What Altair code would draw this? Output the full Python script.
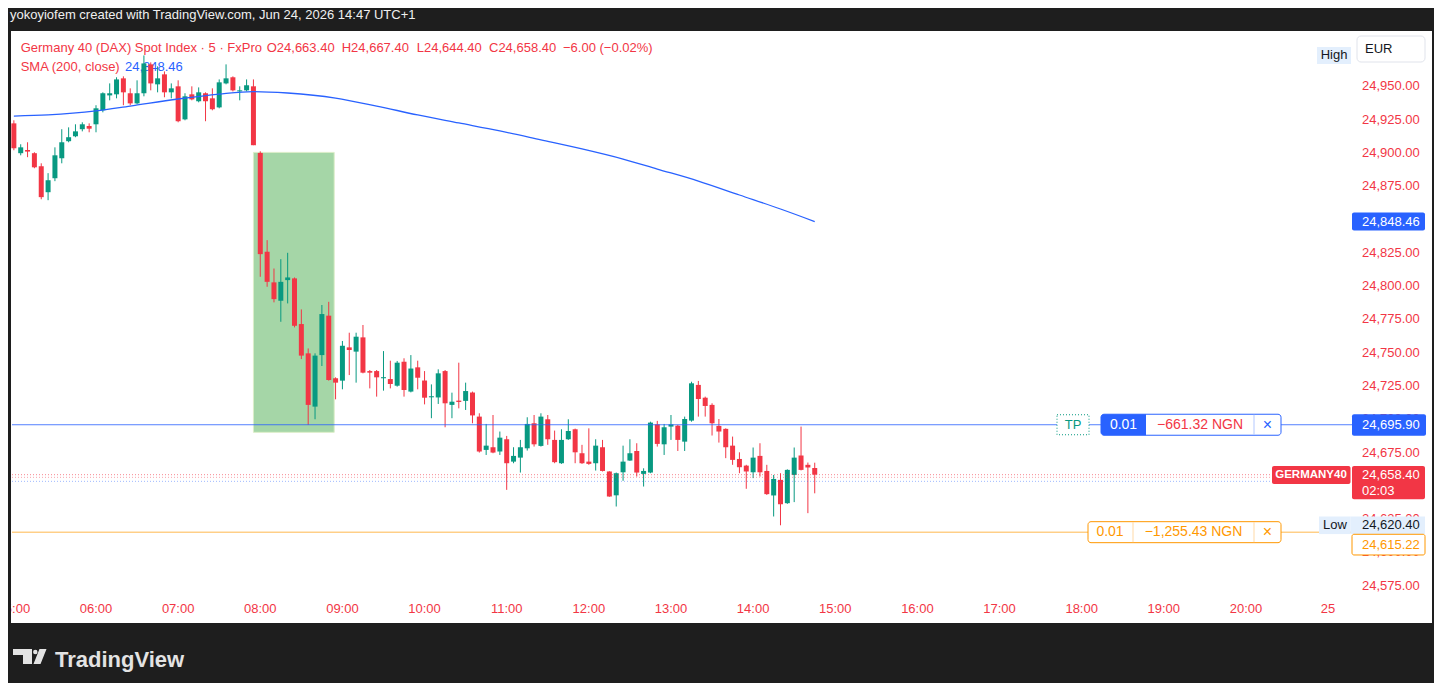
import altair as alt
import pandas as pd

RED = "#f23645"
GREEN = "#089981"
BLUE = "#2962ff"
ORANGE = "#ff9800"
FRAME = "#1e1e1e"
INK = "#131722"
LOGO = "#e3e3e3"
LIGHTBLUE = "#e3effd"
FONT = "Liberation Sans"

# ---------------- data ----------------
opens = [24922.2, 24899.8, 24902.2, 24899.8, 24890.0, 24870.5, 24881.0, 24896.0, 24908.8, 24912.5,
         24917.8, 24920.2, 24921.5, 24932.0, 24943.2, 24944.0, 24956.0, 24944.8, 24937.2, 24944.8,
         24966.5, 24951.5, 24959.0, 24945.5, 24950.0, 24925.2, 24944.0, 24938.8, 24944.8, 24941.0,
         24934.2, 24952.2, 24956.8, 24946.2, 24947.0, 24950.0, 24900.0, 24825.8, 24802.8, 24789.0,
         24804.5, 24805.8, 24771.5, 24749.5, 24709.5, 24748.2, 24777.8, 24730.8, 24729.0, 24754.0,
         24750.8, 24761.5, 24736.2, 24736.2, 24730.8, 24730.2, 24725.2, 24743.2, 24720.8, 24739.0,
         24729.1, 24716.5, 24716.4, 24736.2, 24710.8, 24714.0, 24713.8, 24720.1, 24702.0, 24677.0,
         24679.0, 24675.8, 24685.0, 24668.2, 24671.2, 24678.2, 24697.0, 24680.0, 24700.0, 24684.5,
         24667.0, 24685.0, 24692.5, 24674.5, 24668.2, 24667.0, 24679.0, 24660.8, 24642.9, 24660.2,
         24669.0, 24676.2, 24659.0, 24660.0, 24696.2, 24681.2, 24694.5, 24695.2, 24683.2, 24699.0,
         24725.8, 24716.2, 24710.8, 24695.0, 24692.8, 24680.2, 24670.2, 24665.2, 24660.2, 24672.5,
         24661.2, 24642.8, 24654.5, 24637.0, 24658.2, 24672.8, 24665.8, 24663.4]
highs = [24924.5, 24906.5, 24908.0, 24900.5, 24892.2, 24884.8, 24904.2, 24917.8, 24919.2, 24921.5,
         24923.0, 24922.2, 24935.8, 24945.5, 24952.2, 24956.8, 24957.5, 24948.5, 24954.5, 24973.2,
         24968.0, 24965.0, 24961.2, 24952.2, 24954.5, 24944.8, 24950.0, 24949.2, 24945.5, 24948.5,
         24955.2, 24966.5, 24957.5, 24950.0, 24955.2, 24955.2, 24901.2, 24834.5, 24813.2, 24820.2,
         24825.0, 24806.5, 24782.5, 24753.2, 24749.5, 24785.8, 24788.2, 24731.5, 24758.8, 24765.0,
         24765.0, 24770.8, 24737.0, 24737.0, 24751.2, 24744.0, 24743.8, 24745.8, 24748.2, 24744.0,
         24736.2, 24726.2, 24737.5, 24737.0, 24720.0, 24742.5, 24727.5, 24720.8, 24704.5, 24696.5,
         24703.2, 24690.8, 24687.5, 24679.0, 24684.5, 24701.5, 24703.2, 24704.5, 24703.2, 24691.5,
         24692.5, 24700.0, 24693.0, 24680.8, 24693.2, 24685.0, 24684.5, 24661.0, 24660.0, 24680.2,
         24685.0, 24682.0, 24663.2, 24698.2, 24698.8, 24696.5, 24703.2, 24695.8, 24702.0, 24728.2,
         24728.8, 24717.0, 24712.0, 24700.2, 24693.2, 24687.0, 24675.2, 24665.8, 24678.8, 24682.0,
         24665.8, 24658.2, 24659.5, 24662.4, 24678.8, 24694.5, 24667.5, 24667.4]
lows = [24902.0, 24898.2, 24896.8, 24888.5, 24865.2, 24864.5, 24878.8, 24892.2, 24908.0, 24911.8,
        24916.2, 24915.5, 24915.5, 24930.5, 24939.5, 24941.0, 24935.8, 24935.8, 24936.5, 24942.5,
        24947.0, 24945.5, 24941.8, 24941.0, 24923.0, 24924.5, 24939.5, 24938.0, 24923.8, 24932.0,
        24933.5, 24951.5, 24946.2, 24939.5, 24946.2, 24905.8, 24807.0, 24799.5, 24787.8, 24773.2,
        24787.0, 24769.0, 24745.2, 24695.8, 24700.0, 24740.0, 24729.0, 24715.0, 24722.5, 24733.2,
        24727.5, 24734.5, 24723.2, 24717.0, 24721.5, 24723.2, 24724.5, 24717.0, 24720.2, 24722.5,
        24711.2, 24700.8, 24711.5, 24694.0, 24700.8, 24708.2, 24707.0, 24697.0, 24675.0, 24673.2,
        24674.5, 24673.2, 24647.0, 24667.0, 24660.0, 24676.5, 24679.5, 24679.5, 24680.8, 24667.0,
        24666.5, 24684.5, 24667.0, 24666.5, 24665.8, 24661.5, 24660.8, 24641.8, 24634.5, 24653.8,
        24668.8, 24657.0, 24649.5, 24659.5, 24679.5, 24673.2, 24684.5, 24676.2, 24676.2, 24698.2,
        24702.0, 24702.0, 24687.8, 24682.5, 24670.8, 24665.8, 24659.5, 24647.8, 24655.8, 24657.0,
        24643.2, 24627.0, 24620.4, 24636.5, 24637.8, 24661.6, 24629.5, 24644.4]
closes = [24903.5, 24904.2, 24901.0, 24889.2, 24866.8, 24879.5, 24898.2, 24908.0, 24911.8, 24916.2,
          24921.5, 24918.2, 24933.5, 24944.8, 24944.8, 24955.2, 24945.5, 24937.2, 24944.8, 24967.2,
          24952.2, 24956.0, 24945.5, 24948.5, 24923.8, 24942.5, 24940.2, 24945.5, 24938.8, 24932.8,
          24953.0, 24956.0, 24947.0, 24946.6, 24950.8, 24905.8, 24824.0, 24803.2, 24790.2, 24803.2,
          24806.5, 24770.2, 24747.8, 24710.8, 24747.8, 24779.0, 24729.5, 24727.5, 24755.2, 24752.0,
          24762.0, 24735.0, 24735.0, 24731.5, 24731.5, 24726.5, 24742.5, 24722.0, 24738.1, 24731.2,
          24716.2, 24717.0, 24734.5, 24712.0, 24713.2, 24713.0, 24721.2, 24702.9, 24675.8, 24680.2,
          24675.0, 24686.2, 24667.0, 24672.5, 24679.0, 24696.5, 24681.2, 24702.0, 24685.0, 24667.8,
          24684.5, 24691.2, 24675.2, 24667.0, 24666.5, 24680.2, 24661.2, 24642.0, 24659.5, 24668.2,
          24674.5, 24660.0, 24661.2, 24697.5, 24681.5, 24694.0, 24696.2, 24684.5, 24700.2, 24727.0,
          24715.2, 24710.0, 24697.0, 24690.8, 24679.0, 24669.5, 24664.0, 24660.8, 24671.2, 24660.2,
          24643.8, 24655.2, 24636.2, 24662.0, 24671.2, 24662.0, 24663.8, 24658.4]
# 5-minute candles starting 05:00 (minutes since midnight)
candle_minutes = [300 + 5 * i for i in range(len(opens))]

sma_times = ["05:00", "05:25", "06:00", "06:25", "07:00", "07:30", "07:55", "08:20", "08:55",
             "09:25", "09:55", "10:25", "10:55", "11:25", "11:55", "12:25", "12:50", "13:20",
             "13:50", "14:20", "14:45"]
sma_values = [24927.7, 24928.5, 24931.5, 24935.2, 24940.5, 24944.2, 24946.1, 24945.0, 24941.2,
              24935.2, 24928.5, 24922.5, 24916.5, 24909.8, 24903.0, 24895.4, 24887.9, 24878.9,
              24868.4, 24857.9, 24848.46]

zone_times = ["07:55", "08:54"]
zone_prices = [24690.2, 24900.4]

tp_price = 24695.90
sl_price = 24615.22
last_price = 24658.40
sma_last = 24848.46
dotted_prices = [24658.4, 24656.4, 24653.4]

# visible price-scale labels (24,850 and 24,650 sit fully under the tag boxes)
price_ticks = [24575, 24600, 24625, 24675, 24700, 24725, 24750, 24775, 24800, 24825,
               24875, 24900, 24925, 24950]
hour_ticks = [300 + 60 * k for k in range(17)]
hour_labels = ["05:00", "06:00", "07:00", "08:00", "09:00", "10:00", "11:00", "12:00", "13:00",
               "14:00", "15:00", "16:00", "17:00", "18:00", "19:00", "20:00", "25"]


def to_min(s):
    h, m = s.split(":")
    return int(h) * 60 + int(m)


# ---------------- scales ----------------
X_DOMAIN = [298.64, 1276.0]
Y_DOMAIN = [24565.8, 24990.8]
W, H = 1338, 566
XS = alt.Scale(domain=X_DOMAIN, nice=False, zero=False, padding=0)
YS = alt.Scale(domain=Y_DOMAIN, nice=False, zero=False, padding=0)
PXPT = H / (Y_DOMAIN[1] - Y_DOMAIN[0])


def pts(px):
    return px / PXPT


ONE = pd.DataFrame({"k": [0]})


def prect(x1, x2, y1, y2, fill, **kw):
    return alt.Chart(ONE).mark_rect(fill=fill, **kw).encode(
        x=alt.value(x1), x2=alt.value(x2), y=alt.value(y1), y2=alt.value(y2))


def ptxt(x, y, txt, color, size=13, align="left", weight="normal"):
    return alt.Chart(ONE).mark_text(align=align, baseline="middle", font=FONT, fontSize=size,
                                    fontWeight=weight, color=color).encode(
        x=alt.value(x), y=alt.value(y), text=alt.value(txt))


def hbox(price, up_px, down_px, x1, x2, fill, **kw):
    d = pd.DataFrame({"a": [price + pts(up_px)], "b": [price - pts(down_px)]})
    return alt.Chart(d).mark_rect(fill=fill, **kw).encode(
        x=alt.value(x1), x2=alt.value(x2),
        y=alt.Y("a:Q", scale=YS, axis=None), y2="b:Q")


def vrule(price, up_px, down_px, x, color):
    d = pd.DataFrame({"a": [price + pts(up_px)], "b": [price - pts(down_px)]})
    return alt.Chart(d).mark_rule(color=color, strokeWidth=1).encode(
        x=alt.value(x), y=alt.Y("a:Q", scale=YS, axis=None), y2="b:Q")


def ttxt(price, x, txt, color, size=13, align="left", weight="normal", dy=0):
    d = pd.DataFrame({"p": [price]})
    return alt.Chart(d).mark_text(align=align, baseline="middle", font=FONT, fontSize=size,
                                  fontWeight=weight, color=color, dy=dy).encode(
        x=alt.value(x), y=alt.Y("p:Q", scale=YS, axis=None), text=alt.value(txt))


def hline(price, x1, x2, color, opacity=1.0, dash=None):
    d = pd.DataFrame({"p": [price]})
    kw = dict(color=color, strokeWidth=1, opacity=opacity)
    if dash:
        kw["strokeDash"] = dash
    return alt.Chart(d).mark_rule(**kw).encode(
        x=alt.value(x1), x2=alt.value(x2), y=alt.Y("p:Q", scale=YS, axis=None))


layers = []

# price-scale labels (drawn first so the tag boxes cover them)
ylab = pd.DataFrame({"p": price_ticks})
layers.append(alt.Chart(ylab).transform_calculate(lbl="format(datum.p, ',.2f')").mark_text(
    align="left", baseline="middle", font=FONT, fontSize=13, color=RED).encode(
    x=alt.value(1350), y=alt.Y("p:Q", scale=YS, axis=None), text="lbl:N"))
# time-scale labels
xlab = pd.DataFrame({"t": hour_ticks, "lbl": hour_labels})
layers.append(alt.Chart(xlab).mark_text(
    align="center", baseline="middle", font=FONT, fontSize=13, color=RED).encode(
    x=alt.X("t:Q", scale=XS, axis=None), y=alt.value(577), text="lbl:N"))

# green zone (behind candles)
zone_df = pd.DataFrame({"t1": [to_min(zone_times[0])], "t2": [to_min(zone_times[1])],
                        "p1": [zone_prices[0]], "p2": [zone_prices[1]]})
layers.append(alt.Chart(zone_df).mark_rect(fill="#a5d6a7", stroke="#dcedc8", strokeWidth=1).encode(
    x=alt.X("t1:Q", scale=XS, axis=None), x2="t2:Q",
    y=alt.Y("p1:Q", scale=YS, axis=None), y2="p2:Q"))

# legend texts
layers += [
    ptxt(8.7, 15.5, "Germany 40 (DAX) Spot Index · 5 · FxPro", RED),
    ptxt(254.7, 15.5, "O24,663.40", RED),
    ptxt(329.7, 15.5, "H24,667.40", RED),
    ptxt(404.7, 15.5, "L24,644.40", RED),
    ptxt(477, 15.5, "C24,658.40", RED),
    ptxt(551, 15.5, "−6.00 (−0.02%)", RED),
    ptxt(8.7, 34.7, "SMA (200, close)", RED),
    ptxt(113, 34.7, "24,848.46", BLUE),
]

# candles
cdf = pd.DataFrame({"t": candle_minutes, "o": opens, "h": highs, "l": lows, "c": closes})
cbase = alt.Chart(cdf).transform_calculate(
    lo="min(datum.o, datum.c)",
    hi="max(datum.o, datum.c, min(datum.o, datum.c) + 0.8)",
    up="datum.c >= datum.o ? 'up' : 'down'",
)
ccolor = alt.Color("up:N", scale=alt.Scale(domain=["up", "down"], range=[GREEN, RED]), legend=None)
layers.append(cbase.mark_rule(strokeWidth=1).encode(
    x=alt.X("t:Q", scale=XS, axis=None),
    y=alt.Y("l:Q", scale=YS, axis=None), y2="h:Q", color=ccolor))
layers.append(cbase.mark_bar(size=5).encode(
    x=alt.X("t:Q", scale=XS, axis=None),
    y=alt.Y("lo:Q", scale=YS, axis=None), y2="hi:Q", color=ccolor))

# SMA
sdf = pd.DataFrame({"t": [to_min(s) for s in sma_times], "v": sma_values})
layers.append(alt.Chart(sdf).mark_line(color=BLUE, strokeWidth=1.3, interpolate="monotone").encode(
    x=alt.X("t:Q", scale=XS, axis=None), y=alt.Y("v:Q", scale=YS, axis=None)))

# horizontal lines
layers.append(hline(dotted_prices[0], 0, 1260, RED, 0.6, [1, 2]))
layers.append(hline(dotted_prices[1], 0, 1260, RED, 0.45, [1, 2]))
layers.append(hline(dotted_prices[2], 0, 1260, BLUE, 0.45, [1, 2]))
layers.append(hline(tp_price, 0, 1340, BLUE, 0.8))
layers.append(hline(sl_price, 0, 1340, ORANGE, 0.7))

# TP tag
layers.append(hbox(tp_price, 10, 10, 1045, 1077, "white", stroke=GREEN, strokeWidth=1, strokeDash=[1, 2]))
layers.append(ttxt(tp_price, 1061, "TP", GREEN, 13, "center"))

# blue order pill
layers.append(hbox(tp_price, 10.5, 10.5, 1089, 1269, "white", stroke=BLUE, strokeWidth=1, cornerRadius=3))
layers.append(hbox(tp_price, 10.5, 10.5, 1089, 1134, BLUE, cornerRadiusTopLeft=3, cornerRadiusBottomLeft=3))
layers.append(vrule(tp_price, 10, 10, 1242, "#b3c8ff"))
layers.append(ttxt(tp_price, 1111.5, "0.01", "white", 14, "center"))
layers.append(ttxt(tp_price, 1188, "−661.32 NGN", RED, 14, "center"))
layers.append(ttxt(tp_price, 1255.5, "×", BLUE, 16, "center"))

# orange order pill
layers.append(hbox(sl_price, 10.5, 10.5, 1076, 1269, "white", stroke=ORANGE, strokeWidth=1, cornerRadius=3))
layers.append(vrule(sl_price, 10, 10, 1121, "#ffd9a6"))
layers.append(vrule(sl_price, 10, 10, 1242, "#ffd9a6"))
layers.append(ttxt(sl_price, 1098, "0.01", ORANGE, 14, "center"))
layers.append(ttxt(sl_price, 1181.5, "−1,255.43 NGN", ORANGE, 14, "center"))
layers.append(ttxt(sl_price, 1255.5, "×", ORANGE, 16, "center"))

# price-scale boxes
layers.append(hbox(sma_last, 9, 9, 1340, 1413, BLUE, cornerRadius=2))
layers.append(ttxt(sma_last, 1350, "24,848.46", "white"))
layers.append(hbox(tp_price, 10.5, 11, 1340, 1414, BLUE, cornerRadius=2))
layers.append(ttxt(tp_price, 1350, "24,695.90", "white"))
layers.append(hbox(last_price, 8.7, 9.3, 1260, 1338.5, RED, cornerRadius=2))
layers.append(ttxt(last_price, 1299, "GERMANY40", "white", 11.5, "center", "bold"))
layers.append(hbox(last_price, 8.7, 24.6, 1340, 1413, RED, cornerRadius=2))
layers.append(ttxt(last_price, 1350, "24,658.40", "white"))
layers.append(ttxt(last_price, 1350, "02:03", "white", dy=16))
low_price = min(lows)
high_price = max(highs)
layers.append(hbox(low_price, 8.8, 8.8, 1307, 1338.7, LIGHTBLUE))
layers.append(ttxt(low_price, 1323, "Low", INK, 13, "center"))
layers.append(hbox(low_price, 8.8, 8.8, 1338.7, 1413, LIGHTBLUE))
layers.append(ttxt(low_price, 1350, "24,620.40", INK))
layers.append(hbox(sl_price, -2.1, 22.8, 1340, 1413, "white", stroke=ORANGE, strokeWidth=1, cornerRadius=2))
layers.append(ttxt(sl_price, 1350, "24,615.22", ORANGE, dy=12.4))
layers.append(hbox(high_price, 8.5, 8.5, 1305, 1339, LIGHTBLUE))
layers.append(ttxt(high_price, 1322, "High", INK, 13, "center"))
layers.append(prect(1345, 1413, 4, 30, "white", stroke="#e0e3eb", strokeWidth=1, cornerRadius=4))
layers.append(ptxt(1353, 17, "EUR", INK))

# dark frame
layers += [
    prect(-20, 1440, -40, -1, FRAME),
    prect(-20, -1, -40, 700, FRAME),
    prect(1420, 1440, -40, 700, FRAME),
    prect(-20, 1440, 591, 700, FRAME),
]
layers.append(ptxt(-2, -17, "yokoyiofem created with TradingView.com, Jun 24, 2026 14:47 UTC+1", "#f0f0f0"))

# TradingView logo
layers.append(prect(1, 20, 617, 623, LOGO))
layers.append(prect(11, 20, 617, 632, LOGO))
layers.append(alt.Chart(ONE).mark_circle(size=20, color=LOGO, opacity=1).encode(
    x=alt.value(23.3), y=alt.value(620)))
layers.append(alt.Chart(ONE).mark_point(shape="M -0.07 -1 L 0.87 -1 L 0.07 1 L -0.87 1 Z",
                                        size=225, filled=True, color=LOGO, opacity=1).encode(
    x=alt.value(28), y=alt.value(624.5)))
layers.append(ptxt(43, 628, "TradingView", LOGO, 22, "left", "bold"))

chart = alt.layer(*layers).properties(
    width=W, height=H,
    padding={"left": 4, "top": 24, "right": 84, "bottom": 85},
    autosize=alt.AutoSizeParams(type="none"),
    background="white",
).configure_view(stroke=None)

chart.save("out.html", embed_options={"renderer": "svg", "actions": False})
